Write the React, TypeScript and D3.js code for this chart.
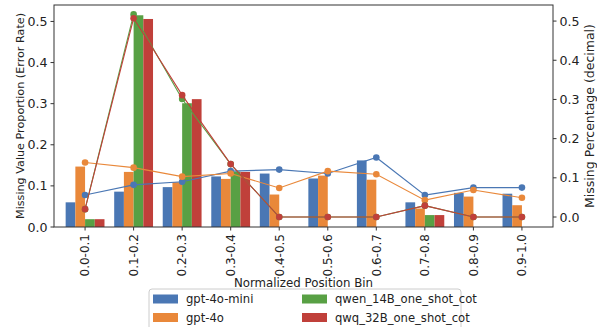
import * as d3 from 'd3';

const bins = ['0.0-0.1', '0.1-0.2', '0.2-0.3', '0.3-0.4', '0.4-0.5', '0.5-0.6', '0.6-0.7', '0.7-0.8', '0.8-0.9', '0.9-1.0'];
const models = ['gpt-4o-mini', 'gpt-4o', 'qwen_14B_one_shot_cot', 'qwq_32B_one_shot_cot'];
const colors = ['#4a77b4', '#e9883a', '#58a044', '#c0403a'];

// bars: error rate (left axis)
const errMini = [0.06, 0.086, 0.097, 0.123, 0.13, 0.118, 0.162, 0.06, 0.083, 0.081];
const errGpt4o = [0.147, 0.134, 0.109, 0.117, 0.079, 0.125, 0.115, 0.045, 0.074, 0.053];
const errQwen = [0.019, 0.515, 0.301, 0.135, 0, 0, 0, 0.029, 0, 0];
const errQwq = [0.019, 0.506, 0.311, 0.134, 0, 0, 0, 0.029, 0, 0];

// lines: missing percentage (right axis)
const missMini = [0.056, 0.082, 0.09, 0.117, 0.121, 0.111, 0.152, 0.056, 0.075, 0.075];
const missGpt4o = [0.139, 0.126, 0.103, 0.111, 0.074, 0.117, 0.109, 0.043, 0.069, 0.049];
const missQwen = [0.02, 0.517, 0.301, 0.135, 0, 0, 0, 0.029, 0, 0];
const missQwq = [0.02, 0.507, 0.311, 0.135, 0, 0, 0, 0.029, 0, 0];

const yTicks = [0, 0.1, 0.2, 0.3, 0.4, 0.5];

const W = 597, H = 327;
const left = 54, right = 553, top = 5, bottom = 227;
const font = 'DejaVu Sans';

export default function App() {
  const bars = [errMini, errGpt4o, errQwen, errQwq];
  const lines = [missMini, missGpt4o, missQwen, missQwq];

  const x = d3.scaleLinear().domain([-0.64, bins.length - 1 + 0.64]).range([left, right]);
  const yL = d3.scaleLinear().domain([0, 0.54]).range([bottom, top]);
  const yR = d3.scaleLinear().domain([-0.0255, 0.541]).range([bottom, top]);
  const bw = 0.2;
  const offsets = [-0.3, -0.1, 0.1, 0.3];

  const line = d3.line<number>()
    .x((_, i) => x(i))
    .y(d => yR(d));

  return (
    <svg width={W} height={H} style={{position: 'absolute', left: 0, top: 0}} fontFamily={font}>
      <rect width={W} height={H} fill="white" />

      {/* bars */}
      {bars.map((vals, s) => (
        <g key={s} fill={colors[s]}>
          {vals.map((v, i) => (
            <rect key={i}
              x={x(i + offsets[s] - bw / 2)}
              width={x(bw) - x(0)}
              y={yL(v)}
              height={yL(0) - yL(v)} />
          ))}
        </g>
      ))}

      {/* lines on twin axis */}
      {lines.map((vals, s) => (
        <g key={s}>
          <path d={line(vals) || ''} fill="none" stroke={colors[s]} strokeWidth={1.1} />
          {vals.map((v, i) => (
            <circle key={i} cx={x(i)} cy={yR(v)} r={3.3} fill={colors[s]} />
          ))}
        </g>
      ))}

      {/* frame */}
      <rect x={left} y={top} width={right - left} height={bottom - top} fill="none" stroke="#333" strokeWidth={1} />

      {/* left axis */}
      {yTicks.map(t => (
        <g key={'l' + t} transform={`translate(${left},${yL(t)})`}>
          <line x1={-3.5} x2={0} stroke="#333" />
          <text x={-6.5} dy="0.36em" textAnchor="end" fontSize={12.6} fill="#222">{t.toFixed(1)}</text>
        </g>
      ))}
      {/* right axis */}
      {yTicks.map(t => (
        <g key={'r' + t} transform={`translate(${right},${yR(t)})`}>
          <line x1={0} x2={3.5} stroke="#333" />
          <text x={6.5} dy="0.36em" textAnchor="start" fontSize={12.6} fill="#222">{t.toFixed(1)}</text>
        </g>
      ))}
      {/* x axis */}
      {bins.map((b, i) => (
        <g key={b} transform={`translate(${x(i)},${bottom})`}>
          <line y1={0} y2={3.5} stroke="#333" />
          <text transform="translate(0,7) rotate(-90)" dy="0.36em" textAnchor="end" fontSize={12} fill="#222">{b}</text>
        </g>
      ))}

      <text x={(left + right) / 2} y={287} textAnchor="middle" fontSize={11.8} fill="#222">Normalized Position Bin</text>
      <text transform={`translate(23.5,${(top + bottom) / 2}) rotate(-90)`} textAnchor="middle" fontSize={11.2} fill="#222">Missing Value Proportion (Error Rate)</text>
      <text transform={`translate(594,${(top + bottom) / 2}) rotate(-90)`} textAnchor="middle" fontSize={12.5} fill="#222">Missing Percentage (decimal)</text>

      {/* legend */}
      <g transform="translate(149,289)">
        <rect x={0} y={0} width={312} height={42} rx={3} fill="white" fillOpacity={0.8} stroke="#ccc" />
        {models.map((m, k) => {
          const col = Math.floor(k / 2), row = k % 2;
          const lx = 4 + col * 149, ly = 10 + row * 18.5;
          return (
            <g key={m} transform={`translate(${lx},${ly})`}>
              <rect x={0} y={-4.5} width={25} height={9} fill={colors[k]} />
              <text x={33} dy="0.36em" fontSize={11.6} fill="#222">{m}</text>
            </g>
          );
        })}
      </g>
    </svg>
  );
}
